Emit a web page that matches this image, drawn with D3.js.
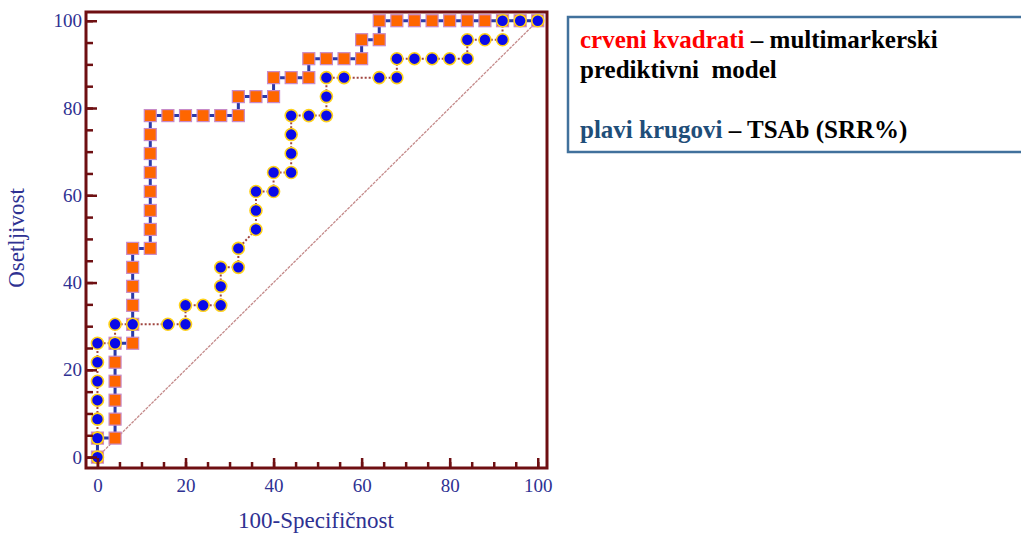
<!DOCTYPE html>
<html>
<head>
<meta charset="utf-8">
<script src="https://cdn.jsdelivr.net/npm/d3@7"></script>
<style>
  html, body { margin: 0; padding: 0; background: #fff; }
  svg { display: block; }
</style>
</head>
<body>
<svg id="chart" width="1021" height="533"></svg>
<script>
// ---- Data ----
// Red squares: multimarker predictive model (x = 100-Specificity, y = Sensitivity)
const redX = [0,0,4,4,4,4,4,4,8,8,8,8,8,8,12,12,12,12,12,12,12,12,16,20,24,28,32,32,36,40,40,44,48,48,52,56,60,60,64,64,68,72,76,80,84,88,92,96,100];
const redY = [0,4.35,4.35,8.70,13.04,17.39,21.74,26.09,26.09,30.43,34.78,39.13,43.48,47.83,47.83,52.17,56.52,60.87,65.22,69.57,73.91,78.26,78.26,78.26,78.26,78.26,78.26,82.61,82.61,82.61,86.96,86.96,86.96,91.30,91.30,91.30,91.30,95.65,95.65,100,100,100,100,100,100,100,100,100,100];
// Blue circles: TSAb (SRR%)
const blueX = [0,0,0,0,0,0,0,4,4,8,16,20,20,24,28,28,28,32,32,36,36,36,40,40,44,44,44,44,48,52,52,52,56,64,68,68,72,76,80,84,84,88,92,92,96,100];
const blueY = [0,4.35,8.70,13.04,17.39,21.74,26.09,26.09,30.43,30.43,30.43,30.43,34.78,34.78,34.78,39.13,43.48,43.48,47.83,52.17,56.52,60.87,60.87,65.22,65.22,69.57,73.91,78.26,78.26,78.26,82.61,86.96,86.96,86.96,86.96,91.30,91.30,91.30,91.30,91.30,95.65,95.65,95.65,100,100,100];
const majorTicks = [0,20,40,60,80,100];
const minorTicks = d3.range(0, 101, 5);
const xTitle = "100-Specifičnost";
const yTitle = "Osetljivost";

const svg = d3.select("#chart");
const L = 86, R = 547, T = 12, B = 468;
const x = d3.scaleLinear().domain([-2.6, 102.1]).range([L, R]);
const y = d3.scaleLinear().domain([-2.5, 102]).range([B, T]);

const frameColor = "#6e0f12";
const labelColor = "#2e3192";

// diagonal reference line
svg.append("line")
  .attr("x1", x(0)).attr("y1", y(0)).attr("x2", x(100)).attr("y2", y(100))
  .attr("stroke", "#c48a8a").attr("stroke-width", 1.3).attr("stroke-dasharray", "3,1");

const red = redX.map((v, i) => [v, redY[i]]);
const blue = blueX.map((v, i) => [v, blueY[i]]);
const line = d3.line().x(d => x(d[0])).y(d => y(d[1]));

// blue series line (dotted dark red)
svg.append("path").attr("d", line(blue)).attr("fill", "none")
  .attr("stroke", "#a0453f").attr("stroke-width", 2).attr("stroke-dasharray", "2,2");
// red series line (solid blue)
svg.append("path").attr("d", line(red)).attr("fill", "none")
  .attr("stroke", "#2b3aa8").attr("stroke-width", 3);

// red squares
const s = 12;
svg.append("g").selectAll("rect").data(red).join("rect")
  .attr("x", d => x(d[0]) - s/2).attr("y", d => y(d[1]) - s/2)
  .attr("width", s).attr("height", s)
  .attr("fill", "#ff6600").attr("stroke", "#c78ac8").attr("stroke-width", 1.2);

// blue circles
svg.append("g").selectAll("circle").data(blue).join("circle")
  .attr("cx", d => x(d[0])).attr("cy", d => y(d[1])).attr("r", 6)
  .attr("fill", "#0a0ae8").attr("stroke", "#ffd21a").attr("stroke-width", 1.6);

// axes (ticks point inward)
const fontFam = "'Liberation Serif', 'Times New Roman', serif";
const yMinor = svg.append("g").attr("transform", `translate(${L},0)`)
  .call(d3.axisLeft(y).tickValues(minorTicks).tickSize(-7).tickFormat(""));
const yMajor = svg.append("g").attr("transform", `translate(${L},0)`)
  .call(d3.axisLeft(y).tickValues(majorTicks).tickSize(-11).tickPadding(4));
const xMinor = svg.append("g").attr("transform", `translate(0,${B})`)
  .call(d3.axisBottom(x).tickValues(minorTicks).tickSize(-6).tickFormat(""));
const xMajor = svg.append("g").attr("transform", `translate(0,${B})`)
  .call(d3.axisBottom(x).tickValues(majorTicks).tickSize(-10).tickPadding(11));
[yMinor, yMajor, xMinor, xMajor].forEach(g => {
  g.select(".domain").remove();
  g.selectAll(".tick line").attr("stroke", frameColor).attr("stroke-width", 2.5);
  g.selectAll(".tick text").attr("fill", labelColor)
    .style("font-family", fontFam).style("font-size", "19px");
});

// frame
svg.append("rect").attr("x", L).attr("y", T).attr("width", R - L).attr("height", B - T)
  .attr("fill", "none").attr("stroke", frameColor).attr("stroke-width", 3);

// axis titles
svg.append("text").attr("x", 316).attr("y", 528)
  .attr("text-anchor", "middle").attr("fill", labelColor)
  .style("font-family", fontFam).style("font-size", "23px").text(xTitle);
svg.append("text").attr("transform", `translate(24,238) rotate(-90)`)
  .attr("text-anchor", "middle").attr("fill", labelColor)
  .style("font-family", fontFam).style("font-size", "23px").text(yTitle);

// legend box
svg.append("rect").attr("x", 568).attr("y", 17).attr("width", 460).attr("height", 135)
  .attr("fill", "#fff").attr("stroke", "#41719c").attr("stroke-width", 2.5);
const lg = svg.append("g").style("font-family", fontFam).style("font-size", "25px").style("font-weight", "bold");
const t1 = lg.append("text").attr("x", 580).attr("y", 48);
t1.append("tspan").attr("fill", "#ff0000").text("crveni kvadrati");
t1.append("tspan").attr("fill", "#000").text(" – multimarkerski");
lg.append("text").attr("x", 580).attr("y", 78).attr("fill", "#000").style("white-space", "pre").text("prediktivni  model");
const t3 = lg.append("text").attr("x", 580).attr("y", 138);
t3.append("tspan").attr("fill", "#1f4e79").text("plavi krugovi");
t3.append("tspan").attr("fill", "#000").text(" – TSAb (SRR%)");
</script>
</body>
</html>
